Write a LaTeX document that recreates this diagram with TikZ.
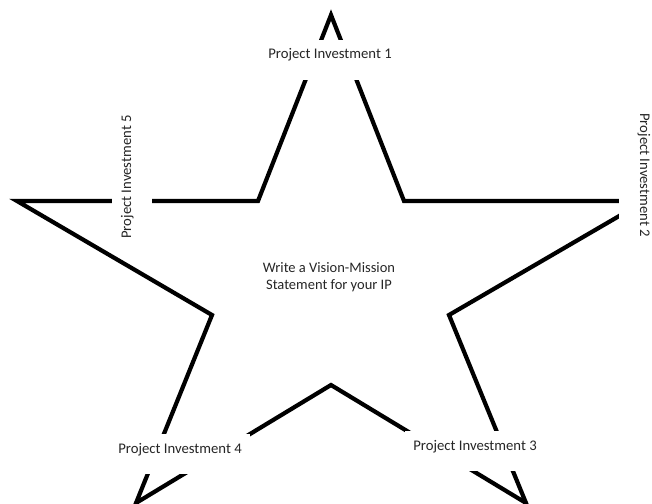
\documentclass[tikz,border=0pt]{standalone}
\usepackage{fontspec}
\setmainfont{Carlito}
\begin{document}
\begin{tikzpicture}[x=1pt,y=-1pt,
  starline/.style={line width=4.2pt, line join=miter},
  pilabel/.style={fill=white, inner sep=0pt, inner xsep=8pt, text height=19pt, text depth=21pt,
    font=\fontsize{14.7}{17}\selectfont, text=black!85, anchor=base},
  centertext/.style={align=center, font=\fontsize{14.5}{16.5}\selectfont, text=black!85}
]
\useasboundingbox (0,0) rectangle (652,503);
\clip (0,0) rectangle (652,503);
\coordinate (T) at (331,15);
\coordinate (A) at (404,201);
\coordinate (R) at (645,201);
\coordinate (B) at (449,315);
\coordinate (BR) at (526,503);
\coordinate (C) at (331,385);
\coordinate (BL) at (136,503);
\coordinate (D) at (212,315);
\coordinate (L) at (17,201);
\coordinate (E) at (258,201);
\draw[starline] (T) -- (A) -- (R) -- (B) -- (BR) -- (C) -- (BL) -- (D) -- (L) -- (E) -- cycle;
\node[pilabel] (p1) at (330,59) {Project Investment 1};
\node[pilabel, rotate=90] (p5) at (131,177) {Project Investment 5};
\node[pilabel, rotate=-90] (p2) at (640,175) {Project Investment 2};
\node[pilabel] (p4) at (180,453) {Project Investment 4};
\node[pilabel] (p3) at (475,450) {Project Investment 3};
\node[centertext] (vm) at (329,277) {Write a Vision-Mission\\Statement for your IP};
\end{tikzpicture}
\end{document}
